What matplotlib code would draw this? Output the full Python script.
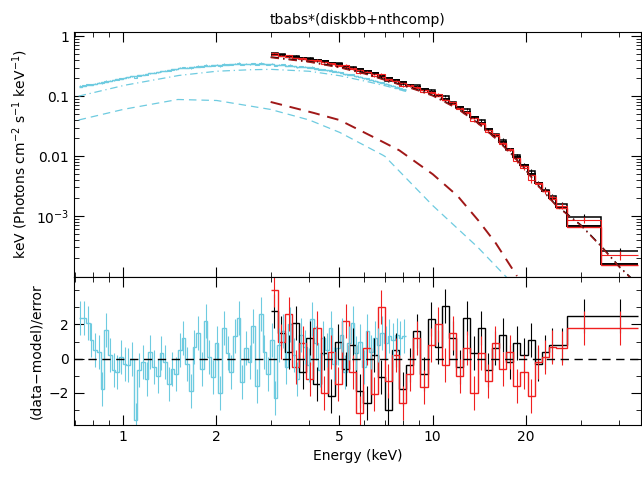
import matplotlib.pyplot as plt
import numpy as np
from matplotlib.ticker import FixedLocator, NullFormatter

# model knots (energy keV, keV*flux)
cy_model_e = [0.72, 1.0, 1.5, 2.0, 2.5, 3.0, 4.0, 5.0, 6.0, 7.0, 8.2]
cy_model_v = [0.14, 0.20, 0.29, 0.33, 0.345, 0.34, 0.30, 0.25, 0.20, 0.16, 0.125]
cy_dd_v = [0.10, 0.15, 0.22, 0.26, 0.275, 0.28, 0.26, 0.22, 0.18, 0.15, 0.12]
cy_dash_e = [0.72, 1.0, 1.5, 2.0, 3.0, 4.0, 5.0, 7.0, 10.0, 14.0, 17.5]
cy_dash_v = [0.04, 0.06, 0.088, 0.085, 0.06, 0.04, 0.025, 0.01, 0.0015, 3e-4, 9e-5]

nu_model_e = [3, 4, 5, 6, 7, 8, 9, 10, 12, 14, 16, 18, 20, 22, 25, 30, 35, 40, 46]
nu_model_v = [0.5, 0.42, 0.34, 0.27, 0.21, 0.17, 0.14, 0.115, 0.07, 0.04, 0.022,
              0.012, 0.0065, 0.0035, 0.0017, 8e-4, 3.5e-4, 1.6e-4, 8e-5]
nu_dash_e = [3, 4, 5, 6, 7.8, 10, 12, 14, 16, 18.7]
nu_dash_v = [0.08, 0.055, 0.04, 0.025, 0.0125, 0.005, 0.0022, 8.6e-4, 3.5e-4, 1e-4]

cy_res = [2.4, 2.4, 2.1, 1.1, 0.5, 0.4, -1.8, 1.7, 0.2, -0.7, -0.8, 0.1,
          -0.3, -0.4, 0.0, -3.6, -0.7, -0.2, -1.2, 0.4, -0.5, -1.0, 0.3, -0.2, -1.5, -0.6, -0.9, 0.5,
          1.2, -0.3, -1.9, 0.7, 1.5, -0.6, 2.2, 0.1, -1.1, 0.9, -2.0, 1.8, 0.3, -0.8, 1.3, 2.4, -1.4, 0.6, -0.2, 1.9,
          -1.6, 2.6, 0.4, -0.9, 1.1, -2.3, 0.8, 1.6, -0.5, 2.0, 0.2, -1.2, 1.4, 0.7, -0.4, 2.3, 0.9, -0.7, 1.2, 0.5,
          1.8, -0.3, 0.6, 1.4, -0.8, 0.9, 2.1, 0.3, 1.0, -0.5, 1.6, 0.4, 1.2, 0.8, 1.5, 0.9, 1.3, 1.1, 1.4, 1.2, 1.3]
black_res = [2.8, 1.5, 0.4, 2.1, -0.8, 1.2, -1.5, 0.3, -2.2, 1.0, -0.6, 0.8, -1.9, -2.6, 0.2, -1.1, -3.0, 0.5, -1.8, -0.4,
             1.6, -0.9, 2.3, 0.7, 3.1, 1.2, -0.5, 2.4, 0.3, 1.8, -0.7, 0.6, 1.4, -0.2, 0.9, 0.2, 1.1, -0.3, 0.4, 0.8,
             0.8, 2.5, 2.5]
red_res = [4.0, 1.0, 2.6, -0.5, 0.9, -1.2, 1.8, -2.0, 0.4, -1.5, 2.2, -0.8, -3.2, 0.6, -2.1, 3.0, -1.3, 0.2, -2.6, -0.9,
           1.2, -1.7, 0.8, 2.0, -0.4, 1.5, -1.0, 0.6, -2.0, 0.3, -1.3, 0.9, -0.6, 0.4, -1.6, -0.8, -2.2, -0.2, 0.1, 0.7,
           0.6, 1.8, 1.8]

CY = '#6ecbe0'
RED = '#f02020'
DRED = '#a01818'

cy_edges = np.geomspace(0.72, 8.2, len(cy_res) + 1)
nu_edges = np.concatenate([np.geomspace(3, 25, 41), [27.2, 35, 46]])


def logi(x, xs, ys):
    return 10 ** np.interp(np.log10(x), np.log10(xs), np.log10(ys))


fig = plt.figure(figsize=(6.42, 4.79), dpi=100)
ax1 = fig.add_axes([0.115, 0.422, 0.883, 0.511])
ax2 = fig.add_axes([0.115, 0.113, 0.883, 0.309], sharex=ax1)


def spectrum(edges, res, mod_e, mod_v, color, errf, lw=1.0):
    c = np.sqrt(edges[:-1] * edges[1:])
    m = logi(c, mod_e, mod_v)
    err = errf(c)
    r = np.array(res)
    d = m * (1 + r * err)
    ax1.stairs(d, edges, baseline=None, color=color, lw=lw * 0.8)
    ax1.errorbar(c, d, yerr=m * err, fmt='none', ecolor=color, lw=0.8)
    ax1.stairs(m, edges, baseline=None, color=color, lw=lw)
    ax2.stairs(r, edges, baseline=None, color=color, lw=1.0)
    ax2.errorbar(c, r, yerr=1.0, fmt='none', ecolor=color, lw=0.8)


spectrum(cy_edges, cy_res, cy_model_e, cy_model_v, CY, lambda c: 0.02 + 0 * c)
nu_err = lambda c: 0.025 + 0.3 * (c / 46) ** 2
spectrum(nu_edges, black_res, nu_model_e, nu_model_v, 'black', nu_err, lw=1.4)
spectrum(nu_edges, red_res, nu_model_e, [v * 0.97 for v in nu_model_v], RED, nu_err)

# components
ec = np.geomspace(0.72, 8.2, 200)
ax1.plot(ec, logi(ec, cy_model_e, cy_dd_v), color=CY, lw=0.9, ls=(0, (6, 3, 1, 3)))
ed = np.geomspace(0.72, 17.5, 200)
ax1.plot(ed, logi(ed, cy_dash_e, cy_dash_v), color=CY, lw=0.9, ls=(0, (6, 4)))
en = np.geomspace(3, 46, 200)
ax1.plot(en, logi(en, nu_model_e, nu_model_v) * 0.9, color='black', lw=1.0, ls=(0, (6, 3, 1, 3)))
ax1.plot(en, logi(en, nu_model_e, nu_model_v) * 0.88, color=DRED, lw=1.0, ls=(0, (6, 3, 1, 3)))
ed2 = np.geomspace(3, 18.7, 200)
ax1.plot(ed2, logi(ed2, nu_dash_e, nu_dash_v), color=DRED, lw=1.4, ls=(0, (6, 4)))

ax2.axhline(0, color='black', lw=1.0, ls=(0, (6, 4)))

ax1.set_xscale('log')
ax1.set_yscale('log')
ax1.set_xlim(0.695, 46.9)
ax1.set_ylim(9.7e-5, 1.17)
ax1.set_yticks([1, 0.1, 0.01, 1e-3])
ax1.set_yticklabels(['1', '0.1', '0.01', r'10$^{-3}$'])
ax2.set_ylim(-3.9, 4.8)
ax2.set_yticks([-2, 0, 2])
ax2.yaxis.set_minor_locator(FixedLocator([-3, -1, 1, 3, 4]))
ax2.set_xticks([1, 2, 5, 10, 20])
ax2.set_xticklabels(['1', '2', '5', '10', '20'])
plt.setp(ax1.get_xticklabels(), visible=False)
for a in (ax1, ax2):
    a.tick_params(which='both', direction='in', top=True, right=True, labelsize=10)
    a.tick_params(which='major', length=7)
    a.tick_params(which='minor', length=3.5)
ax1.xaxis.set_minor_formatter(NullFormatter())
ax2.xaxis.set_minor_formatter(NullFormatter())
ax1.set_title('tbabs*(diskbb+nthcomp)', fontsize=10)
ax1.set_ylabel(r'keV (Photons cm$^{-2}$ s$^{-1}$ keV$^{-1}$)', fontsize=10)
ax2.set_ylabel('(data\u2212model)/error', fontsize=10)
ax2.set_xlabel('Energy (keV)', fontsize=10)

fig.savefig('out.png', dpi=100)
